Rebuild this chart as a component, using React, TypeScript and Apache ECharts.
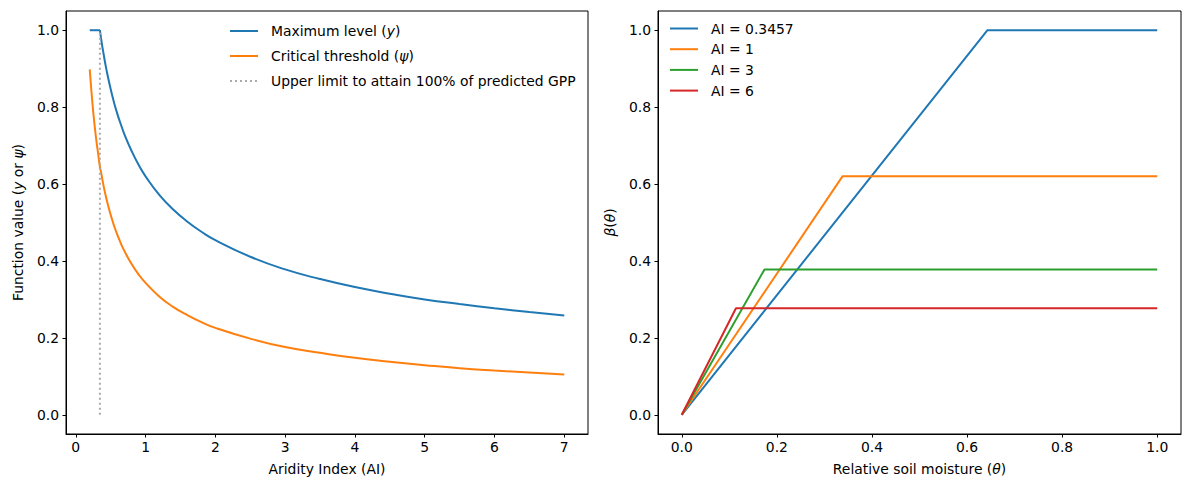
import React, { useEffect, useRef } from "react";
import * as echarts from "echarts";

// Left panel: Aridity index values and function values
const aiFlatX = [0.2, 0.3457];
const aiFlatY = [1.0, 1.0];
const aiX = [0.3457, 0.36, 0.38, 0.4, 0.42, 0.45, 0.5, 0.55, 0.6, 0.65, 0.7, 0.8, 0.9, 1, 1.2, 1.4, 1.6, 1.8, 2, 2.5, 3, 3.5, 4, 4.5, 5, 5.5, 6, 6.5, 7];
const maxLevel = [1.0, 0.982, 0.958, 0.937, 0.916, 0.888, 0.847, 0.811, 0.78, 0.753, 0.728, 0.686, 0.65, 0.62, 0.571, 0.533, 0.502, 0.476, 0.454, 0.411, 0.378, 0.353, 0.332, 0.315, 0.3, 0.288, 0.277, 0.267, 0.258];
const aiXPsi = [0.2, 0.22, 0.25, 0.28, 0.3, 0.32, 0.3457, 0.36, 0.38, 0.4, 0.42, 0.45, 0.5, 0.55, 0.6, 0.65, 0.7, 0.8, 0.9, 1, 1.2, 1.4, 1.6, 1.8, 2, 2.5, 3, 3.5, 4, 4.5, 5, 5.5, 6, 6.5, 7];
const psi = [0.898, 0.851, 0.788, 0.736, 0.706, 0.68, 0.645, 0.633, 0.613, 0.594, 0.577, 0.554, 0.52, 0.491, 0.466, 0.444, 0.425, 0.392, 0.365, 0.343, 0.307, 0.28, 0.259, 0.241, 0.226, 0.198, 0.176, 0.161, 0.148, 0.138, 0.129, 0.121, 0.115, 0.11, 0.105];
const upperLimitAI = 0.3457;
const upperLimitY = [0, 1];

// Right panel: beta(theta) curves
const aiLabels = ["AI = 0.3457", "AI = 1", "AI = 3", "AI = 6"];
const breakpoints = [0.643, 0.338, 0.174, 0.114];
const plateaus = [1.0, 0.62, 0.378, 0.277];

const leftXTicks = [0, 1, 2, 3, 4, 5, 6, 7];
const rightXTicks = [0, 0.2, 0.4, 0.6, 0.8, 1.0];
const yTicks = [0, 0.2, 0.4, 0.6, 0.8, 1.0];

const colors = ["#1f77b4", "#ff7f0e", "#2ca02c", "#d62728"];
const FONT = "DejaVu Sans";
const FS = 13.9;

const solidIcon = "path://M0,0H28V2H0Z";
const dottedIcon = "path://M0,0H2V2H0Z M5,0H7V2H5Z M10,0H12V2H10Z M15,0H17V2H15Z M20,0H22V2H20Z M25,0H27V2H25Z M28,0H28V2H28Z";

export default function App() {
  const ref = useRef<HTMLDivElement>(null);
  useEffect(() => {
    document.body.style.margin = "0";
    const chart = echarts.init(ref.current!, undefined, { renderer: "svg" });
    const axisCommon = {
      axisLine: { show: true, onZero: false, lineStyle: { color: "#000", width: 1 } },
      axisTick: { show: true, length: 3.5, inside: false, lineStyle: { color: "#000", width: 1 } },
      splitLine: { show: false },
    };
    const labelStyle = { color: "#000", fontFamily: FONT, fontSize: FS };
    const italic = { fontStyle: "italic", fontFamily: FONT, fontSize: FS, color: "#000" };
    const nameStyle = { color: "#000", fontFamily: FONT, fontSize: FS, rich: { i: italic } };
    const option: any = {
      animation: false,
      backgroundColor: "#fff",
      textStyle: { fontFamily: FONT },
      grid: [
        { left: 66, top: 11, width: 522, height: 423, show: true, borderColor: "#000", borderWidth: 1, containLabel: false },
        { left: 658, top: 11, width: 523, height: 423, show: true, borderColor: "#000", borderWidth: 1, containLabel: false },
      ],
      xAxis: [
        {
          type: "value", gridIndex: 0, min: -0.14, max: 7.34, ...axisCommon,
          axisTick: { ...axisCommon.axisTick, customValues: leftXTicks },
          axisLabel: { ...labelStyle, margin: 6, customValues: leftXTicks, formatter: (v: number) => String(v) },
          name: "Aridity Index (AI)", nameLocation: "middle", nameGap: 28, nameTextStyle: nameStyle,
        },
        {
          type: "value", gridIndex: 1, min: -0.05, max: 1.05, ...axisCommon,
          axisTick: { ...axisCommon.axisTick, customValues: rightXTicks },
          axisLabel: { ...labelStyle, margin: 6, customValues: rightXTicks, formatter: (v: number) => v.toFixed(1) },
          name: "Relative soil moisture ({i|θ})", nameLocation: "middle", nameGap: 28, nameTextStyle: nameStyle,
        },
      ],
      yAxis: [
        {
          type: "value", gridIndex: 0, min: -0.05, max: 1.05, ...axisCommon,
          axisTick: { ...axisCommon.axisTick, customValues: yTicks },
          axisLabel: { ...labelStyle, margin: 7, customValues: yTicks, formatter: (v: number) => v.toFixed(1) },
          name: "Function value ({i|y} or {i|ψ})", nameLocation: "middle", nameGap: 41, nameRotate: 90, nameTextStyle: nameStyle,
        },
        {
          type: "value", gridIndex: 1, min: -0.05, max: 1.05, ...axisCommon,
          axisTick: { ...axisCommon.axisTick, customValues: yTicks },
          axisLabel: { ...labelStyle, margin: 7, customValues: yTicks, formatter: (v: number) => v.toFixed(1) },
          name: "{i|β}({i|θ})", nameLocation: "middle", nameGap: 41, nameRotate: 90, nameTextStyle: nameStyle,
        },
      ],
      legend: [
        {
          orient: "vertical", left: 230, top: 24, padding: 0, itemWidth: 28, itemHeight: 2, itemGap: 11,
          symbolKeepAspect: false,
          data: [
            { name: "Maximum level (y)", icon: solidIcon },
            { name: "Critical threshold (ψ)", icon: solidIcon },
            { name: "Upper limit to attain 100% of predicted GPP", icon: dottedIcon },
          ],
          formatter: (n: string) => n.replace("(y)", "({i|y})").replace("(ψ)", "({i|ψ})"),
          textStyle: { ...labelStyle, padding: [0, 0, 0, 8], rich: { i: italic } },
        },
        {
          orient: "vertical", left: 670, top: 21.5, padding: 0, itemWidth: 28, itemHeight: 2, itemGap: 6.7,
          symbolKeepAspect: false,
          data: aiLabels.map((name) => ({ name, icon: solidIcon })),
          textStyle: { ...labelStyle, padding: [0, 0, 0, 8] },
        },
      ],
      series: [
        {
          name: "Maximum level (y)", type: "line", xAxisIndex: 0, yAxisIndex: 0, symbol: "none",
          lineStyle: { color: colors[0], width: 2 }, itemStyle: { color: colors[0] },
          data: aiFlatX.map((x, i) => [x, aiFlatY[i]]),
        },
        {
          name: "Maximum level (y)", type: "line", xAxisIndex: 0, yAxisIndex: 0, symbol: "none", smooth: 0.5,
          lineStyle: { color: colors[0], width: 2 }, itemStyle: { color: colors[0] },
          data: aiX.map((x, i) => [x, maxLevel[i]]),
        },
        {
          name: "Critical threshold (ψ)", type: "line", xAxisIndex: 0, yAxisIndex: 0, symbol: "none", smooth: 0.5,
          lineStyle: { color: colors[1], width: 2 }, itemStyle: { color: colors[1] },
          data: aiXPsi.map((x, i) => [x, psi[i]]),
        },
        {
          name: "Upper limit to attain 100% of predicted GPP", type: "line", xAxisIndex: 0, yAxisIndex: 0, symbol: "none",
          lineStyle: { color: "#aaaaaa", width: 2, type: [2, 3] }, itemStyle: { color: "#aaaaaa" },
          data: upperLimitY.map((y) => [upperLimitAI, y]),
        },
        ...aiLabels.map((name, k) => ({
          name, type: "line", xAxisIndex: 1, yAxisIndex: 1, symbol: "none",
          lineStyle: { color: colors[k], width: 2 }, itemStyle: { color: colors[k] },
          data: [[0, 0], [breakpoints[k], plateaus[k]], [1, plateaus[k]]],
        })),
      ],
    };
    chart.setOption(option);
    return () => chart.dispose();
  }, []);
  return <div ref={ref} style={{ width: 1189, height: 490 }} />;
}
